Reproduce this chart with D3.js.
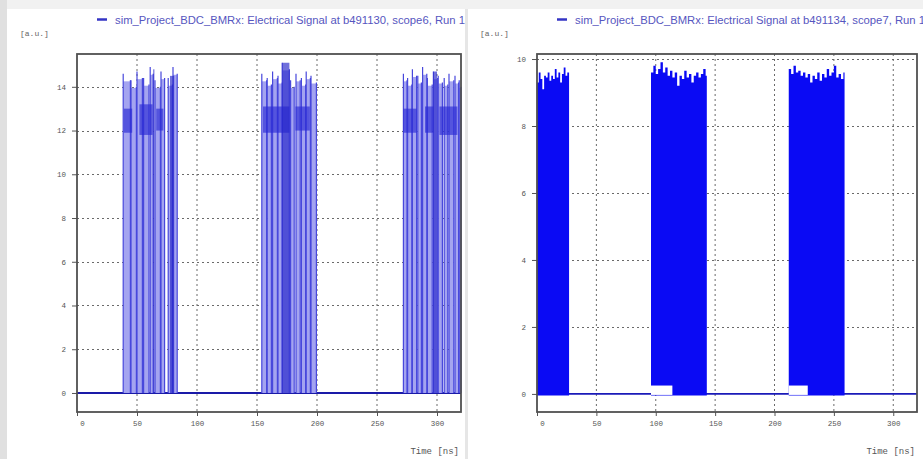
<!DOCTYPE html>
<html>
<head>
<meta charset="utf-8">
<script src="https://cdn.jsdelivr.net/npm/d3@7"></script>
<style>
  html, body { margin: 0; padding: 0; background: #fff; }
  svg { display: block; }
</style>
</head>
<body>
<div id="chart"></div>
<script>
(() => {
// ---- data ----
const xTicks = [0, 50, 100, 150, 200, 250, 300];
const leftYTicks = [0, 2, 4, 6, 8, 10, 12, 14];
const rightYTicks = [0, 2, 4, 6, 8, 10];

const leftTitle = "sim_Project_BDC_BMRx: Electrical Signal at b491130, scope6, Run 1";
const rightTitle = "sim_Project_BDC_BMRx: Electrical Signal at b491134, scope7, Run 1";

// left scope: pulses [tStart, tEnd, peak]
const leftPulses = [
  [38.5, 44.5, 14.6], [45, 49.5, 14.3], [50, 54.5, 14.7], [55.5, 60, 14.4],
  [61, 63.5, 14.9], [65, 69.5, 14.3], [70, 73, 14.7], [76, 79.5, 14.4], [80, 83.5, 14.9],
  [154, 158, 14.6], [158.5, 162, 14.4], [163, 167, 14.7], [167.5, 171, 14.5],
  [171, 177, 15.1], [178, 181, 14.3], [182.5, 186, 14.6], [187, 190.5, 14.4],
  [191, 194.5, 14.7], [195, 199.5, 14.5],
  [272, 275, 14.6], [275.5, 279, 14.4], [279.5, 283, 14.8], [284, 287, 14.5],
  [288, 291.5, 14.9], [292, 296, 14.4], [297, 300.5, 14.7], [301, 304.5, 14.5],
  [306, 309, 14.4], [310, 314, 14.6], [315, 318, 14.5], [318.5, 320, 14.3]
];
// dense cluster bands [tStart, tEnd, low, high]
const leftBands = [
  [39, 46, 11.9, 13.0], [52, 63, 11.8, 13.2], [66, 72, 12.0, 13.0],
  [155, 177, 11.9, 13.1], [182, 194, 12.0, 13.1],
  [272, 283, 11.9, 13.0], [290, 297, 11.9, 13.1], [302, 317, 11.8, 13.1]
];
// darker full-height strokes [tStart, tEnd, peak]
const leftDark = [
  [63.5, 64.5, 14.8], [77.5, 81, 14.5],
  [171, 177, 15.1],
  [297, 300, 14.7]
];

// right scope: block contours [t, top value]
const rightBlock1 = [
  [0, 9.3], [1.5, 9.6], [3, 9.4], [4.5, 9.1], [6, 9.5], [7.5, 9.45], [9, 9.6],
  [10.5, 9.35], [12, 9.5], [13.5, 9.4], [15, 9.7], [16.5, 9.45], [18, 9.6],
  [19.5, 9.3], [21, 9.55], [22.5, 9.75], [24, 9.5], [25.5, 9.6], [27, 9.5]
];
const rightBlock2 = [
  [96, 9.6], [98, 9.8], [100, 9.55], [102, 9.7], [104, 9.9], [106, 9.6],
  [108, 9.75], [110, 9.5], [112, 9.65], [114, 9.45], [116, 9.6], [118, 9.2],
  [120, 9.5], [122, 9.4], [124, 9.65], [126, 9.45], [128, 9.55], [130, 9.3],
  [132, 9.5], [134, 9.6], [136, 9.45], [138, 9.55], [140, 9.7], [142, 9.5], [143, 9.6]
];
const rightBlock3 = [
  [212, 9.7], [214, 9.55], [216, 9.8], [218, 9.6], [220, 9.65], [222, 9.5],
  [224, 9.6], [226, 9.45], [228, 9.55], [230, 9.3], [232, 9.5], [234, 9.4],
  [236, 9.6], [238, 9.35], [240, 9.55], [242, 9.45], [244, 9.7], [246, 9.5],
  [248, 9.6], [250, 9.8], [252, 9.45], [254, 9.55], [256, 9.4], [258, 9.6], [259, 9.5]
];
// white gaps at the foot of blocks [tStart, tEnd, height]
const rightGaps = [[96, 114, 0.25], [212, 228, 0.25]];

const width = 923;
const height = 459;

const svg = d3.select("#chart")
  .append("svg")
  .attr("width", width)
  .attr("height", height);

// window frame bits
svg.append("rect").attr("x", 0).attr("y", 0).attr("width", width).attr("height", 9).attr("fill", "#f1f1f1");
svg.append("rect").attr("x", 0).attr("y", 0).attr("width", 7).attr("height", height).attr("fill", "#e0e0e0");
svg.append("rect").attr("x", 465).attr("y", 9).attr("width", 3).attr("height", height - 9).attr("fill", "#e6e6e6");

const monoFont = "'Liberation Mono', 'DejaVu Sans Mono', monospace";

const plotTop = 54;
const plotBottom = 412;

function drawPanel(cfg) {
  const x = d3.scaleLinear().domain([0, 320]).range([cfg.left, cfg.right]);
  const y = d3.scaleLinear().domain(cfg.yDomain).range([plotBottom, plotTop]);
  const g = svg.append("g");

  // title with legend swatch
  g.append("line")
    .attr("x1", cfg.titleX - 18).attr("x2", cfg.titleX - 8)
    .attr("y1", 19.5).attr("y2", 19.5)
    .attr("stroke", "#3434c4").attr("stroke-width", 2.5);
  g.append("text")
    .attr("x", cfg.titleX).attr("y", 24)
    .attr("textLength", 350).attr("lengthAdjust", "spacingAndGlyphs")
    .style("font-family", "'Liberation Sans', Arial, sans-serif")
    .style("font-size", "11px")
    .attr("fill", "#5656c0")
    .text(cfg.title);

  g.append("text")
    .attr("x", cfg.unitX).attr("y", 36)
    .style("font-family", monoFont).style("font-size", "8px")
    .attr("fill", "#666")
    .text("[a.u.]");

  g.append("text")
    .attr("x", cfg.right - 2).attr("y", 454)
    .attr("text-anchor", "end")
    .style("font-family", monoFont).style("font-size", "9px")
    .attr("fill", "#555")
    .text("Time [ns]");

  // grid
  g.append("g").selectAll("line")
    .data(xTicks.filter(d => d > 0))
    .enter().append("line")
    .attr("x1", d => x(d)).attr("x2", d => x(d))
    .attr("y1", plotTop).attr("y2", plotBottom)
    .attr("stroke", "#6a6a6a").attr("stroke-width", 1)
    .attr("stroke-dasharray", "2,3");
  g.append("g").selectAll("line")
    .data(cfg.yTicks.filter(d => d > 0))
    .enter().append("line")
    .attr("x1", cfg.left).attr("x2", cfg.right)
    .attr("y1", d => Math.round(y(d)) + 0.5).attr("y2", d => Math.round(y(d)) + 0.5)
    .attr("stroke", "#6a6a6a").attr("stroke-width", 1)
    .attr("stroke-dasharray", "2,3");

  cfg.drawData(g, x, y);

  // axes
  const yAxis = g.append("g")
    .attr("transform", `translate(${cfg.left},0)`)
    .call(d3.axisLeft(y).tickValues(cfg.yTicks).tickSize(5).tickPadding(6));
  yAxis.select(".domain").remove();
  yAxis.selectAll(".tick line").attr("stroke", "#555");
  yAxis.selectAll("text")
    .style("font-family", monoFont).style("font-size", "7.5px")
    .attr("fill", "#555");

  const xAxis = g.append("g")
    .attr("transform", `translate(0,${plotBottom})`)
    .call(d3.axisBottom(x).tickValues(xTicks).tickSize(4).tickPadding(5));
  xAxis.select(".domain").remove();
  xAxis.selectAll(".tick line").attr("stroke", "#555");
  xAxis.selectAll("text")
    .style("font-family", monoFont).style("font-size", "7.5px")
    .attr("fill", "#555")
    .attr("dx", d => d === 0 ? 5 : 0);

  // plot frame
  svg.append("rect")
    .attr("x", cfg.left).attr("y", plotTop)
    .attr("width", cfg.right - cfg.left).attr("height", plotBottom - plotTop)
    .style("fill", "none")
    .style("stroke", "#505050")
    .style("stroke-width", "1.8px");
}

drawPanel({
  left: 77, right: 461, yDomain: [-0.87, 15.5], yTicks: leftYTicks,
  title: leftTitle, titleX: 115, unitX: 20,
  drawData: (g, x, y) => {
    g.append("line")
      .attr("x1", x(0)).attr("x2", x(320))
      .attr("y1", y(0)).attr("y2", y(0))
      .attr("stroke", "#1a1aa8").attr("stroke-width", 2);

    g.append("g").selectAll("rect")
      .data(leftPulses)
      .enter().append("rect")
      .attr("x", d => x(d[0]))
      .attr("width", d => x(d[1]) - x(d[0]))
      .attr("y", d => y(d[2] - 0.35))
      .attr("height", d => y(0) - y(d[2] - 0.35))
      .attr("fill", "#a4a4f0");

    g.append("g").selectAll("path")
      .data(leftPulses)
      .enter().append("path")
      .attr("d", d => `M${x(d[0])},${y(0)}V${y(d[2])}M${x(d[1])},${y(0)}V${y(d[2] - 0.3)}`)
      .attr("fill", "none")
      .attr("stroke", "#4848dc").attr("stroke-width", 1.2);

    g.append("g").selectAll("rect")
      .data(leftBands)
      .enter().append("rect")
      .attr("x", d => x(d[0]))
      .attr("width", d => x(d[1]) - x(d[0]))
      .attr("y", d => y(d[3]))
      .attr("height", d => y(d[2]) - y(d[3]))
      .attr("fill", "#2a2ad4").attr("opacity", 0.65);

    g.append("g").selectAll("rect")
      .data(leftDark)
      .enter().append("rect")
      .attr("x", d => x(d[0]))
      .attr("width", d => Math.max(1.2, x(d[1]) - x(d[0])))
      .attr("y", d => y(d[2]))
      .attr("height", d => y(0) - y(d[2]))
      .attr("fill", "#2323c8").attr("opacity", 0.65);
  }
});

drawPanel({
  left: 537, right: 917, yDomain: [-0.54, 10.15], yTicks: rightYTicks,
  title: rightTitle, titleX: 575, unitX: 480,
  drawData: (g, x, y) => {
    g.append("line")
      .attr("x1", x(0)).attr("x2", x(320))
      .attr("y1", y(0)).attr("y2", y(0))
      .attr("stroke", "#1a1ab8").attr("stroke-width", 1.6);

    const area = d3.area()
      .x(d => x(d[0]))
      .y0(y(-0.05))
      .y1(d => y(d[1]))
      .curve(d3.curveStepAfter);

    g.append("g").selectAll("path")
      .data([rightBlock1, rightBlock2, rightBlock3])
      .enter().append("path")
      .attr("d", area)
      .attr("fill", "#0a0af4");

    g.append("g").selectAll("rect")
      .data(rightGaps)
      .enter().append("rect")
      .attr("x", d => x(d[0]))
      .attr("width", d => x(d[1]) - x(d[0]))
      .attr("y", d => y(d[2]))
      .attr("height", d => y(-0.03) - y(d[2]))
      .attr("fill", "#fff");
  }
});
})();
</script>
</body>
</html>
